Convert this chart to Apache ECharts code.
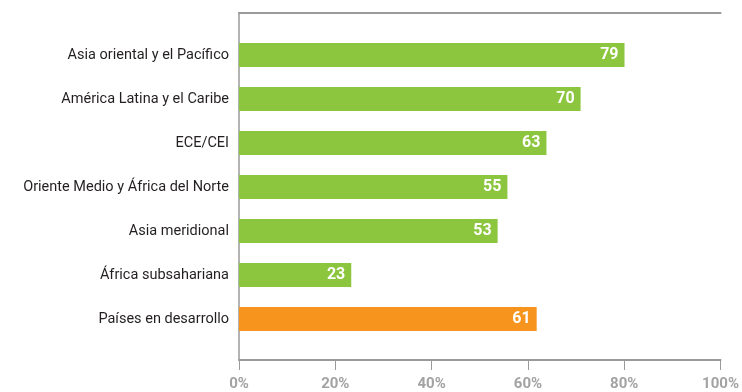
<!DOCTYPE html>
<html>
<head>
<meta charset="utf-8">
<script src="https://cdn.jsdelivr.net/npm/echarts@6/dist/echarts.min.js"></script>
<style>
  html, body { margin: 0; padding: 0; background: #fff; }
  #chart { width: 742px; height: 392px; }
</style>
</head>
<body>
<div id="chart"></div>
<script>
  // categorias de arriba hacia abajo
  var categories = ['Asia oriental y el Pacífico', 'América Latina y el Caribe', 'ECE/CEI',
    'Oriente Medio y África del Norte', 'Asia meridional', 'África subsahariana', 'Países en desarrollo'];
  var values = [79, 70, 63, 55, 53, 23, 61];
  var barColors = ['#8cc63f', '#8cc63f', '#8cc63f', '#8cc63f', '#8cc63f', '#8cc63f', '#f7941d'];
  var xTicks = [0, 20, 40, 60, 80, 100];

  var axisGray = '#9a9a9a';
  var myChart = echarts.init(document.getElementById('chart'));

  var option = {
    animation: false,
    grid: [
      // barras
      { left: 239, right: 15, top: 33, height: 308 },
      // marco y eje inferior
      { left: 239, right: 15, top: 13, bottom: 32 }
    ],
    xAxis: [
      { gridIndex: 0, type: 'value', min: 0, max: 100, show: false },
      {
        gridIndex: 1, type: 'value', min: 0, max: 100, interval: 20,
        position: 'bottom',
        axisLine: { show: true, lineStyle: { color: axisGray, width: 2 } },
        axisTick: { show: true, length: 10, lineStyle: { color: axisGray, width: 1 } },
        splitLine: { show: false },
        axisLabel: {
          margin: 17,
          color: '#a3a3a3',
          fontFamily: 'Roboto',
          fontWeight: 'bold',
          fontSize: 15,
          formatter: function (v) { return xTicks.indexOf(v) >= 0 ? v + '%' : ''; }
        }
      },
      {
        gridIndex: 1, type: 'value', min: 0, max: 100, position: 'top',
        axisLine: { show: true, lineStyle: { color: axisGray, width: 2 } },
        axisTick: { show: false }, axisLabel: { show: false }, splitLine: { show: false }
      }
    ],
    yAxis: [
      {
        gridIndex: 0, type: 'category', data: categories, inverse: true,
        axisLine: { show: false }, axisTick: { show: false },
        axisLabel: { margin: 10, color: '#231f20', fontFamily: 'Roboto', fontSize: 14.5 }
      },
      {
        gridIndex: 1, type: 'value', min: 0, max: 1,
        axisLine: { show: true, lineStyle: { color: axisGray, width: 1.5 } },
        axisTick: { show: false }, axisLabel: { show: false }, splitLine: { show: false }
      }
    ],
    series: [
      {
        type: 'bar',
        xAxisIndex: 0,
        yAxisIndex: 0,
        barWidth: 24,
        data: values.map(function (v, i) {
          return { value: v, itemStyle: { color: barColors[i] } };
        }),
        label: {
          show: true,
          position: 'insideRight',
          distance: 6,
          color: '#fff',
          fontFamily: 'Roboto',
          fontWeight: 'bold',
          fontSize: 16
        }
      }
    ]
  };
  myChart.setOption(option);
</script>
</body>
</html>
